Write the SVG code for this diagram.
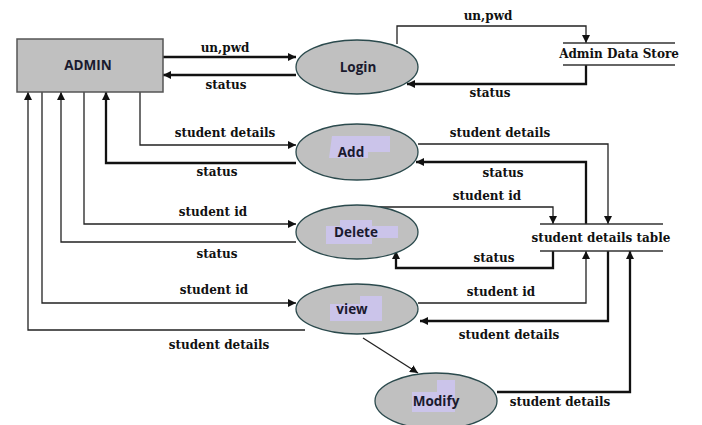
<svg xmlns="http://www.w3.org/2000/svg" width="702" height="425" viewBox="0 0 702 425">
<style>
.node{fill:#c0c0c0;stroke:#2b4a4d;stroke-width:1.3}
.box{fill:#c0c0c0;stroke:#555;stroke-width:1.5}
.hl{fill:#cbc4ea}
.nt{font-family:"Open Sans","Liberation Sans",sans-serif;font-weight:bold;font-size:13.5px;fill:#1a1a2e;text-anchor:middle}
.ft{font-family:"DejaVu Serif","Liberation Serif",serif;font-weight:bold;font-size:12px;fill:#111;text-anchor:middle}
.ln{fill:none;stroke:#222;stroke-width:1.3}
.tk{fill:none;stroke:#111;stroke-width:2.3}
.ds{stroke:#333;stroke-width:1.3}
</style>
<defs>
<marker id="ah" viewBox="0 0 10 10" refX="10" refY="5" markerWidth="8" markerHeight="8" markerUnits="userSpaceOnUse" orient="auto">
<path d="M0,0 L10,5 L0,10 z" fill="#111"/>
</marker>
</defs>
<rect width="702" height="425" fill="#fff"/>
<g id="connectors">
<path class="tk" d="M163,57 H296" marker-end="url(#ah)"/>
<path class="tk" d="M296,75 H163" marker-end="url(#ah)"/>
<path class="ln" d="M397,44 V26 H586 V43" marker-end="url(#ah)"/>
<path class="tk" d="M586,65 V84 H407" marker-end="url(#ah)"/>
<path class="ln" d="M140,92 V145 H296" marker-end="url(#ah)"/>
<path class="tk" d="M296,163 H106 V92" marker-end="url(#ah)"/>
<path class="ln" d="M84,92 V224 H296" marker-end="url(#ah)"/>
<path class="ln" d="M296,242 H61 V92" marker-end="url(#ah)"/>
<path class="ln" d="M42,92 V303 H296" marker-end="url(#ah)"/>
<path class="ln" d="M305,330 H28 V92" marker-end="url(#ah)"/>
<path class="ln" d="M418,144 H608 V224" marker-end="url(#ah)"/>
<path class="tk" d="M586,224 V162 H416" marker-end="url(#ah)"/>
<path class="ln" d="M378,207 H553 V224" marker-end="url(#ah)"/>
<path class="tk" d="M553,251 V268 H396 V251" marker-end="url(#ah)"/>
<path class="ln" d="M418,303 H586 V251" marker-end="url(#ah)"/>
<path class="tk" d="M608,251 V321 H420" marker-end="url(#ah)"/>
<path class="ln" d="M363,338 L418,373" marker-end="url(#ah)"/>
<path class="tk" d="M497,392 H630 V251" marker-end="url(#ah)"/>
<text class="ft" x="225" y="52">un,pwd</text>
<text class="ft" x="226" y="89">status</text>
<text class="ft" x="488" y="20">un,pwd</text>
<text class="ft" x="490" y="97">status</text>
<text class="ft" x="225" y="137">student details</text>
<text class="ft" x="217" y="176">status</text>
<text class="ft" x="213" y="216">student id</text>
<text class="ft" x="217" y="258">status</text>
<text class="ft" x="214" y="294">student id</text>
<text class="ft" x="219" y="349">student details</text>
<text class="ft" x="500" y="137">student details</text>
<text class="ft" x="503" y="177">status</text>
<text class="ft" x="487" y="200">student id</text>
<text class="ft" x="494" y="262">status</text>
<text class="ft" x="501" y="296">student id</text>
<text class="ft" x="509" y="339">student details</text>
<text class="ft" x="560" y="406">student details</text>
</g>
<g id="admin">
<rect class="box" x="17" y="39" width="146" height="53"/>
<text class="nt" x="88" y="70">ADMIN</text>
</g>
<g id="login">
<ellipse class="node" cx="357" cy="67" rx="61" ry="27"/>
<text class="nt" x="358" y="72">Login</text>
</g>
<g id="add">
<ellipse class="node" cx="357" cy="152" rx="61" ry="28"/>
<path class="hl" d="M332,136 H390 V152 H368 V158 H329 Z"/>
<text class="nt" x="351" y="157">Add</text>
</g>
<g id="delete">
<ellipse class="node" cx="357" cy="232" rx="61" ry="27"/>
<path class="hl" d="M340,220 H372 V226 H398 V238 H372 V244 H326 V226 H340 Z"/>
<text class="nt" x="356" y="237">Delete</text>
</g>
<g id="view">
<ellipse class="node" cx="357" cy="309" rx="61" ry="25"/>
<path class="hl" d="M330,304 H360 V296 H382 V321 H330 Z"/>
<text class="nt" x="352" y="314">view</text>
</g>
<g id="modify">
<ellipse class="node" cx="436" cy="401" rx="61" ry="28"/>
<path class="hl" d="M437,380 H455 V412 H412 V392 H437 Z"/>
<text class="nt" x="436" y="406">Modify</text>
</g>
<g id="admin-data-store">
<line class="ds" x1="563" y1="43" x2="675" y2="43"/>
<line class="ds" x1="563" y1="65" x2="675" y2="65"/>
<text class="ft" x="619" y="58">Admin Data Store</text>
</g>
<g id="student-details-table">
<line class="ds" x1="540" y1="224" x2="663" y2="224"/>
<line class="ds" x1="540" y1="251" x2="663" y2="251"/>
<text class="ft" x="601" y="242">student details table</text>
</g>
</svg>
